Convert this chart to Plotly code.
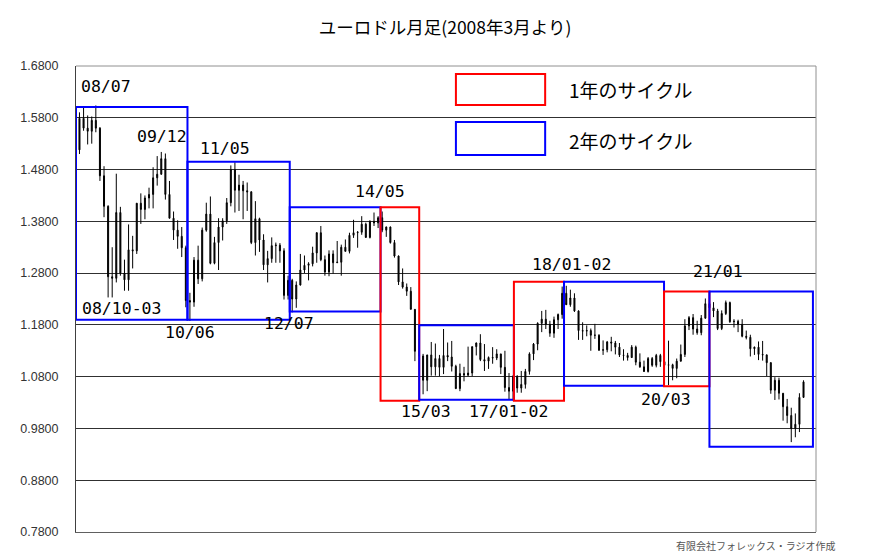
import plotly.graph_objects as go

# ---- data: EUR/USD monthly OHLC, 2008/03 .. 2022/12 ----
months = [f"{y}/{m:02d}" for y in range(2008, 2023) for m in range(1, 13)][2:]

opens = [
    1.5180, 1.5790, 1.5600, 1.5540, 1.5750, 1.5600, 1.4680, 1.4090, 1.2730, 1.2700,  # 2008 Mar-Dec
    1.3970, 1.2800, 1.2670, 1.3250, 1.3230, 1.4150, 1.4030, 1.4250, 1.4320, 1.4640, 1.4710, 1.5010,  # 2009
    1.4320, 1.3860, 1.3630, 1.3510, 1.3290, 1.2270, 1.2240, 1.3050, 1.2690, 1.3630, 1.3940, 1.2990,  # 2010
    1.3390, 1.3690, 1.3810, 1.4160, 1.4800, 1.4400, 1.4500, 1.4390, 1.4370, 1.3390, 1.3850, 1.3440,  # 2011
    1.2960, 1.3080, 1.3330, 1.3340, 1.3230, 1.2370, 1.2660, 1.2300, 1.2570, 1.2860, 1.2950, 1.2980,  # 2012
    1.3190, 1.3580, 1.3060, 1.2820, 1.3170, 1.3000, 1.3010, 1.3300, 1.3220, 1.3530, 1.3580, 1.3590,  # 2013
    1.3745, 1.3490, 1.3800, 1.3770, 1.3870, 1.3630, 1.3690, 1.3390, 1.3130, 1.2630, 1.2530, 1.2450,  # 2014
    1.2100, 1.1290, 1.1200, 1.0730, 1.1220, 1.0990, 1.1150, 1.0980, 1.1210, 1.1180, 1.1000, 1.0570,  # 2015
    1.0860, 1.0830, 1.0870, 1.1380, 1.1450, 1.1130, 1.1100, 1.1170, 1.1160, 1.1240, 1.0980, 1.0590,  # 2016
    1.0520, 1.0800, 1.0580, 1.0650, 1.0900, 1.1240, 1.1430, 1.1830, 1.1910, 1.1810, 1.1640, 1.1900,  # 2017
    1.2000, 1.2410, 1.2190, 1.2320, 1.2070, 1.1690, 1.1680, 1.1690, 1.1600, 1.1600, 1.1310, 1.1320,  # 2018
    1.1470, 1.1450, 1.1370, 1.1220, 1.1210, 1.1170, 1.1370, 1.1080, 1.0990, 1.0900, 1.1150, 1.1020,  # 2019
    1.1210, 1.1090, 1.1020, 1.1030, 1.0960, 1.1100, 1.1230, 1.1780, 1.1940, 1.1720, 1.1650, 1.1930,  # 2020
    1.2210, 1.2130, 1.2070, 1.1730, 1.2020, 1.2230, 1.1860, 1.1870, 1.1810, 1.1580, 1.1560, 1.1340,  # 2021
    1.1370, 1.1230, 1.1220, 1.1070, 1.0540, 1.0730, 1.0480, 1.0220, 1.0050, 0.9800, 0.9880, 1.0400,  # 2022
]
highs = [
    1.5905, 1.6018, 1.5845, 1.5825, 1.6038, 1.5620, 1.4865, 1.4110, 1.3300, 1.4720,
    1.4080, 1.3060, 1.3740, 1.3520, 1.4150, 1.4340, 1.4300, 1.4450, 1.4845, 1.5060, 1.5140, 1.5110,
    1.4580, 1.3990, 1.3820, 1.3690, 1.3330, 1.2420, 1.3110, 1.3330, 1.3680, 1.4160, 1.4280, 1.3500,
    1.3860, 1.3860, 1.4250, 1.4880, 1.4940, 1.4700, 1.4580, 1.4550, 1.4380, 1.4190, 1.3870, 1.3550,
    1.3230, 1.3490, 1.3390, 1.3380, 1.3280, 1.2750, 1.2690, 1.2640, 1.3170, 1.3140, 1.3010, 1.3310,
    1.3590, 1.3710, 1.3140, 1.3240, 1.3240, 1.3420, 1.3350, 1.3450, 1.3580, 1.3830, 1.3610, 1.3900,
    1.3775, 1.3820, 1.3970, 1.3900, 1.3990, 1.3700, 1.3700, 1.3440, 1.3140, 1.2890, 1.2600, 1.2530,
    1.2100, 1.1530, 1.1240, 1.1220, 1.1470, 1.1440, 1.1220, 1.1720, 1.1460, 1.1490, 1.1030, 1.1050,
    1.0990, 1.1380, 1.1380, 1.1460, 1.1620, 1.1430, 1.1190, 1.1370, 1.1330, 1.1240, 1.1300, 1.0870,
    1.0830, 1.0830, 1.0910, 1.0950, 1.1270, 1.1450, 1.1850, 1.2070, 1.2090, 1.1880, 1.1960, 1.2020,
    1.2540, 1.2555, 1.2480, 1.2410, 1.2080, 1.1850, 1.1790, 1.1730, 1.1820, 1.1620, 1.1500, 1.1490,
    1.1570, 1.1490, 1.1450, 1.1330, 1.1260, 1.1410, 1.1400, 1.1250, 1.1110, 1.1180, 1.1180, 1.1240,
    1.1240, 1.1100, 1.1495, 1.1050, 1.1150, 1.1420, 1.1910, 1.1970, 1.2010, 1.1880, 1.1990, 1.2310,
    1.2350, 1.2240, 1.2110, 1.2080, 1.2270, 1.2250, 1.1910, 1.1900, 1.1910, 1.1690, 1.1610, 1.1380,
    1.1480, 1.1490, 1.1230, 1.1080, 1.0790, 1.0780, 1.0480, 1.0370, 1.0200, 1.0090, 1.0480, 1.0730,
]
lows = [
    1.5100, 1.5550, 1.5285, 1.5300, 1.5520, 1.4580, 1.3880, 1.2330, 1.2330, 1.2620,
    1.2750, 1.2460, 1.2460, 1.2890, 1.3170, 1.3750, 1.3840, 1.4050, 1.4050, 1.4490, 1.4700, 1.4220,
    1.3860, 1.3440, 1.3270, 1.3110, 1.2140, 1.1875, 1.2150, 1.2590, 1.2640, 1.3600, 1.2970, 1.2970,
    1.2860, 1.3430, 1.3750, 1.4090, 1.3970, 1.4000, 1.3840, 1.4000, 1.3360, 1.3140, 1.3210, 1.2860,
    1.2620, 1.3000, 1.3000, 1.3000, 1.2290, 1.2290, 1.2040, 1.2130, 1.2560, 1.2800, 1.2660, 1.2930,
    1.3000, 1.3030, 1.2750, 1.2740, 1.2790, 1.3000, 1.2750, 1.3220, 1.3180, 1.3480, 1.3290, 1.3540,
    1.3480, 1.3470, 1.3710, 1.3670, 1.3590, 1.3500, 1.3370, 1.3100, 1.2570, 1.2500, 1.2360, 1.2100,
    1.1100, 1.1200, 1.0460, 1.0520, 1.0820, 1.0820, 1.0810, 1.0850, 1.1100, 1.0900, 1.0560, 1.0520,
    1.0710, 1.0810, 1.0810, 1.1210, 1.1100, 1.0910, 1.0950, 1.1050, 1.1120, 1.0850, 1.0510, 1.0350,
    1.0340, 1.0490, 1.0490, 1.0570, 1.0840, 1.1120, 1.1310, 1.1660, 1.1720, 1.1570, 1.1550, 1.1720,
    1.1920, 1.2210, 1.2150, 1.2050, 1.1510, 1.1510, 1.1580, 1.1300, 1.1530, 1.1300, 1.1220, 1.1270,
    1.1290, 1.1230, 1.1180, 1.1110, 1.1110, 1.1160, 1.1020, 1.0970, 1.0890, 1.0880, 1.0990, 1.0980,
    1.0990, 1.0780, 1.0636, 1.0730, 1.0770, 1.1090, 1.1180, 1.1700, 1.1610, 1.1610, 1.1600, 1.1920,
    1.2060, 1.1950, 1.1700, 1.1700, 1.1990, 1.1840, 1.1750, 1.1660, 1.1560, 1.1520, 1.1190, 1.1220,
    1.1120, 1.1110, 1.0810, 1.0470, 1.0350, 1.0360, 0.9950, 0.9900, 0.9536, 0.9630, 0.9730, 1.0390,
]
closes = opens[1:] + [1.0700]

x_idx = list(range(len(months)))

y_ticks = [0.78, 0.88, 0.98, 1.08, 1.18, 1.28, 1.38, 1.48, 1.58, 1.68]

# cycle boxes: (x0, x1 in month index, y0, y1 in price, colour)
cycle_boxes = [
    (-0.85, 26.4, 1.190, 1.601, "#0000ff"),
    (26.4, 51.4, 1.190, 1.495, "#0000ff"),
    (51.4, 73.6, 1.206, 1.407, "#0000ff"),
    (73.6, 83.05, 1.0336, 1.407, "#ff0000"),
    (83.05, 106.2, 1.0356, 1.1794, "#0000ff"),
    (106.2, 118.45, 1.0336, 1.2632, "#ff0000"),
    (118.45, 142.9, 1.0626, 1.2632, "#0000ff"),
    (142.9, 154.0, 1.0615, 1.2446, "#ff0000"),
    (154.0, 179.3, 0.9447, 1.2446, "#0000ff"),
]

# peak/trough labels: text, paper x (left), paper y (centre)
peak_labels = [
    ("08/07", 0.004, 0.955),
    ("09/12", 0.080, 0.848),
    ("11/05", 0.165, 0.822),
    ("14/05", 0.374, 0.730),
    ("08/10-03", 0.005, 0.479),
    ("10/06", 0.117, 0.429),
    ("12/07", 0.252, 0.448),
    ("15/03", 0.436, 0.258),
    ("17/01-02", 0.529, 0.258),
    ("18/01-02", 0.613, 0.573),
    ("21/01", 0.831, 0.560),
    ("20/03", 0.761, 0.285),
]

fig = go.Figure()
fig.add_trace(go.Candlestick(
    x=x_idx, open=opens, high=highs, low=lows, close=closes,
    text=months, hoverinfo="text+y",
    increasing=dict(line=dict(color="black", width=1), fillcolor="black"),
    decreasing=dict(line=dict(color="black", width=1), fillcolor="black"),
    whiskerwidth=0, showlegend=False,
))

shapes = []
for x0, x1, y0, y1, c in cycle_boxes:
    shapes.append(dict(type="rect", xref="x", yref="y", x0=x0, x1=x1, y0=y0, y1=y1,
                       line=dict(color=c, width=2), fillcolor="rgba(0,0,0,0)", layer="above"))
# right/top plot border (gray)
shapes.append(dict(type="line", xref="paper", yref="paper", x0=1, x1=1, y0=0, y1=1,
                   line=dict(color="#909090", width=1)))
shapes.append(dict(type="line", xref="paper", yref="paper", x0=0, x1=1, y0=1, y1=1,
                   line=dict(color="#909090", width=1)))
# legend rectangles
shapes.append(dict(type="rect", xref="paper", yref="paper", x0=0.5134, x1=0.6340, y0=0.9163, y1=0.9828,
                   line=dict(color="#ff0000", width=2)))
shapes.append(dict(type="rect", xref="paper", yref="paper", x0=0.5134, x1=0.6340, y0=0.8090, y1=0.8798,
                   line=dict(color="#0000ff", width=2)))

annotations = []
for t, xp, yp in peak_labels:
    annotations.append(dict(text=t, xref="paper", yref="paper", x=xp, y=yp, xanchor="left",
                            yanchor="middle", showarrow=False,
                            font=dict(family="DejaVu Sans Mono", size=16.5, color="black")))
annotations.append(dict(text="1年のサイクル", xref="paper", yref="paper", x=0.6635, y=0.9485,
                        xanchor="left", yanchor="middle", showarrow=False,
                        font=dict(family="Noto Sans CJK JP", size=19, color="black")))
annotations.append(dict(text="2年のサイクル", xref="paper", yref="paper", x=0.6635, y=0.8412,
                        xanchor="left", yanchor="middle", showarrow=False,
                        font=dict(family="Noto Sans CJK JP", size=19, color="black")))
annotations.append(dict(text="有限会社フォレックス・ラジオ作成", xref="paper", yref="paper",
                        x=1.0295, y=-0.028, xanchor="right", yanchor="middle", showarrow=False,
                        font=dict(family="Noto Sans CJK JP", size=10, color="#555555")))

# the page body adds an 8px offset, so margins are shifted by 8px
fig.update_layout(
    width=886, height=555,
    margin=dict(l=62, r=78, t=58, b=31),
    paper_bgcolor="white", plot_bgcolor="white",
    title=dict(text="ユーロドル月足(2008年3月より)", x=0.4933, xanchor="center",
               y=1 - 20 / 555, yanchor="middle",
               font=dict(family="Noto Sans CJK JP", size=17.5, color="black")),
    xaxis=dict(range=[-0.85, 180.05], showticklabels=False, showgrid=False, zeroline=False,
               showline=True, linecolor="#606060", linewidth=1, ticks="",
               rangeslider=dict(visible=False), fixedrange=True),
    yaxis=dict(range=[0.78, 1.68], tickvals=y_ticks, tickformat=".4f",
               showgrid=True, gridcolor="#303030", gridwidth=1, zeroline=False,
               showline=True, linecolor="#404040", linewidth=1, ticks="",
               ticklabelstandoff=14,
               tickfont=dict(family="Liberation Sans, Arial", size=12.5, color="#333333")),
    boxgap=0.65,
    shapes=shapes, annotations=annotations,
    showlegend=False,
)

fig.write_html("out.html")
